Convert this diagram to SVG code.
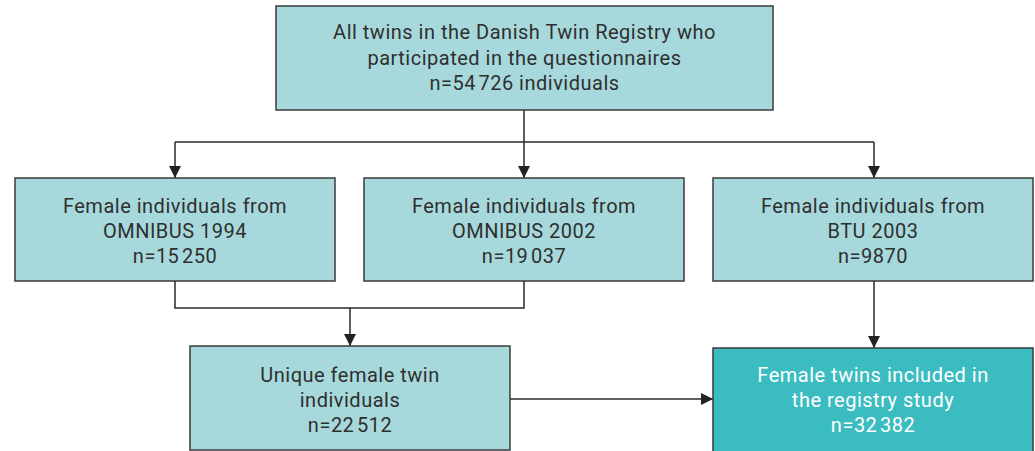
<svg xmlns="http://www.w3.org/2000/svg" width="1035" height="451" viewBox="0 0 1035 451">
<style>
.box{fill:#a7d9dc;stroke:#3a3a3a;stroke-width:1.5}
.dark{fill:#3bbcc0;stroke:#3a3a3a;stroke-width:1.5}
.t{font-family:Roboto,"Liberation Sans",sans-serif;font-size:20px;letter-spacing:0.5px;fill:#2f2f2f;text-anchor:middle}
.w{fill:#ffffff}
.c{fill:none;stroke:#2a2a2a;stroke-width:1.5}
</style>
<defs>
<marker id="ah" viewBox="0 0 12 12" refX="12" refY="6" markerWidth="12" markerHeight="12" markerUnits="userSpaceOnUse" orient="auto">
<path d="M0,0 L12,6 L0,12 z" fill="#222"/>
</marker>
</defs>
<rect width="1035" height="451" fill="#ffffff"/>
<g id="connectors">
<path class="c" d="M524,110 V142"/>
<path class="c" d="M175,142 H874"/>
<path class="c" d="M175,142 V178" marker-end="url(#ah)"/>
<path class="c" d="M524,142 V178" marker-end="url(#ah)"/>
<path class="c" d="M874,142 V178" marker-end="url(#ah)"/>
<path class="c" d="M175,281 V308 H524 V281"/>
<path class="c" d="M350,308 V346" marker-end="url(#ah)"/>
<path class="c" d="M874,281 V348" marker-end="url(#ah)"/>
<path class="c" d="M510,399 H713" marker-end="url(#ah)"/>
</g>
<g id="all">
<rect class="box" x="276" y="6" width="497" height="104"/>
<text class="t" x="524.5" y="39">All twins in the Danish Twin Registry who</text>
<text class="t" x="524.5" y="65">participated in the questionnaires</text>
<text class="t" x="524.5" y="90">n=54&#8202;726 individuals</text>
</g>
<g id="omnibus1994">
<rect class="box" x="15" y="178" width="320" height="103"/>
<text class="t" x="175" y="213">Female individuals from</text>
<text class="t" x="175" y="238">OMNIBUS 1994</text>
<text class="t" x="175" y="263">n=15&#8202;250</text>
</g>
<g id="omnibus2002">
<rect class="box" x="364" y="178" width="320" height="103"/>
<text class="t" x="524" y="213">Female individuals from</text>
<text class="t" x="524" y="238">OMNIBUS 2002</text>
<text class="t" x="524" y="263">n=19&#8202;037</text>
</g>
<g id="btu2003">
<rect class="box" x="713" y="178" width="320" height="103"/>
<text class="t" x="873" y="213">Female individuals from</text>
<text class="t" x="873" y="238">BTU 2003</text>
<text class="t" x="873" y="263">n=9870</text>
</g>
<g id="unique">
<rect class="box" x="190" y="346" width="320" height="104"/>
<text class="t" x="350" y="382">Unique female twin</text>
<text class="t" x="350" y="407">individuals</text>
<text class="t" x="350" y="432">n=22&#8202;512</text>
</g>
<g id="included">
<rect class="dark" x="713" y="348" width="320" height="106"/>
<text class="t w" x="873" y="382">Female twins included in</text>
<text class="t w" x="873" y="407">the registry study</text>
<text class="t w" x="873" y="432">n=32&#8202;382</text>
</g>
</svg>
